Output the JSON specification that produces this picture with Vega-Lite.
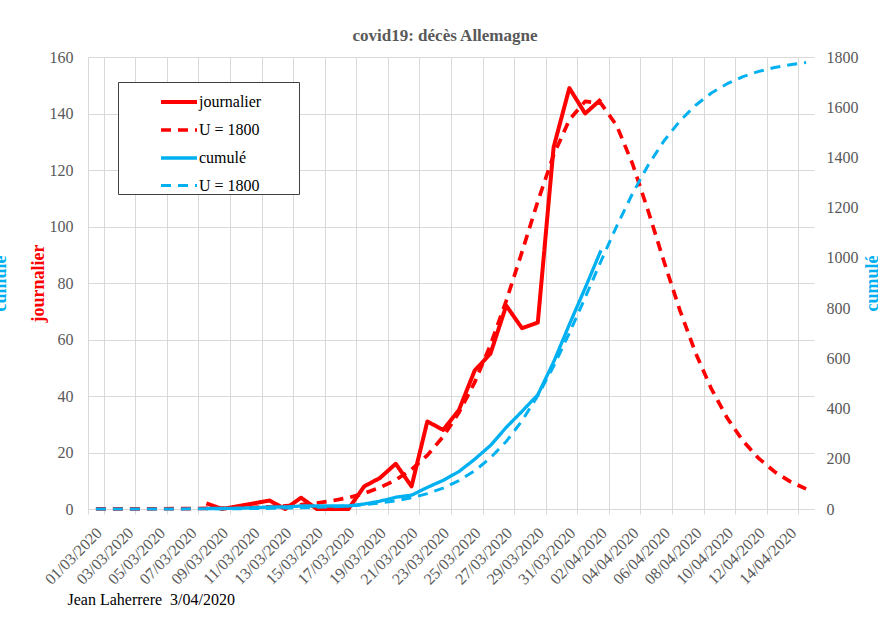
{
  "$schema": "https://vega.github.io/schema/vega-lite/v6.json",
  "width": 726,
  "height": 452,
  "autosize": {"type": "none"},
  "padding": {"left": 88, "top": 57, "right": 64, "bottom": 109},
  "background": "white",
  "title": {
    "text": "covid19: décès Allemagne",
    "font": "Liberation Serif",
    "fontSize": 17,
    "fontWeight": "bold",
    "color": "#595959",
    "anchor": "middle",
    "baseline": "alphabetic",
    "offset": 17,
    "dx": -6,
    "dy": 26
  },
  "datasets": {
    "daily": [
      {"date": "2020-03-08", "serie": "journalier", "value": 2},
      {"date": "2020-03-09", "serie": "journalier", "value": 0},
      {"date": "2020-03-10", "serie": "journalier", "value": 1},
      {"date": "2020-03-11", "serie": "journalier", "value": 2},
      {"date": "2020-03-12", "serie": "journalier", "value": 3},
      {"date": "2020-03-13", "serie": "journalier", "value": 0},
      {"date": "2020-03-14", "serie": "journalier", "value": 4},
      {"date": "2020-03-15", "serie": "journalier", "value": 0},
      {"date": "2020-03-16", "serie": "journalier", "value": 0},
      {"date": "2020-03-17", "serie": "journalier", "value": 0},
      {"date": "2020-03-18", "serie": "journalier", "value": 8},
      {"date": "2020-03-19", "serie": "journalier", "value": 11},
      {"date": "2020-03-20", "serie": "journalier", "value": 16},
      {"date": "2020-03-21", "serie": "journalier", "value": 8},
      {"date": "2020-03-22", "serie": "journalier", "value": 31},
      {"date": "2020-03-23", "serie": "journalier", "value": 28},
      {"date": "2020-03-24", "serie": "journalier", "value": 35},
      {"date": "2020-03-25", "serie": "journalier", "value": 49},
      {"date": "2020-03-26", "serie": "journalier", "value": 55},
      {"date": "2020-03-27", "serie": "journalier", "value": 72},
      {"date": "2020-03-28", "serie": "journalier", "value": 64},
      {"date": "2020-03-29", "serie": "journalier", "value": 66},
      {"date": "2020-03-30", "serie": "journalier", "value": 128},
      {"date": "2020-03-31", "serie": "journalier", "value": 149},
      {"date": "2020-04-01", "serie": "journalier", "value": 140},
      {"date": "2020-04-02", "serie": "journalier", "value": 145},
      {"date": "2020-03-01", "serie": "U = 1800", "value": 0.02},
      {"date": "2020-03-02", "serie": "U = 1800", "value": 0.03},
      {"date": "2020-03-03", "serie": "U = 1800", "value": 0.05},
      {"date": "2020-03-04", "serie": "U = 1800", "value": 0.06},
      {"date": "2020-03-05", "serie": "U = 1800", "value": 0.09},
      {"date": "2020-03-06", "serie": "U = 1800", "value": 0.12},
      {"date": "2020-03-07", "serie": "U = 1800", "value": 0.16},
      {"date": "2020-03-08", "serie": "U = 1800", "value": 0.22},
      {"date": "2020-03-09", "serie": "U = 1800", "value": 0.31},
      {"date": "2020-03-10", "serie": "U = 1800", "value": 0.43},
      {"date": "2020-03-11", "serie": "U = 1800", "value": 0.59},
      {"date": "2020-03-12", "serie": "U = 1800", "value": 0.81},
      {"date": "2020-03-13", "serie": "U = 1800", "value": 1.12},
      {"date": "2020-03-14", "serie": "U = 1800", "value": 1.54},
      {"date": "2020-03-15", "serie": "U = 1800", "value": 2.13},
      {"date": "2020-03-16", "serie": "U = 1800", "value": 2.93},
      {"date": "2020-03-17", "serie": "U = 1800", "value": 4.0},
      {"date": "2020-03-18", "serie": "U = 1800", "value": 5.5},
      {"date": "2020-03-19", "serie": "U = 1800", "value": 7.6},
      {"date": "2020-03-20", "serie": "U = 1800", "value": 10.3},
      {"date": "2020-03-21", "serie": "U = 1800", "value": 14.0},
      {"date": "2020-03-22", "serie": "U = 1800", "value": 19.0},
      {"date": "2020-03-23", "serie": "U = 1800", "value": 25.6},
      {"date": "2020-03-24", "serie": "U = 1800", "value": 34.1},
      {"date": "2020-03-25", "serie": "U = 1800", "value": 44.8},
      {"date": "2020-03-26", "serie": "U = 1800", "value": 58.1},
      {"date": "2020-03-27", "serie": "U = 1800", "value": 73.7},
      {"date": "2020-03-28", "serie": "U = 1800", "value": 91.0},
      {"date": "2020-03-29", "serie": "U = 1800", "value": 108.9},
      {"date": "2020-03-30", "serie": "U = 1800", "value": 125.3},
      {"date": "2020-03-31", "serie": "U = 1800", "value": 137.8},
      {"date": "2020-04-01", "serie": "U = 1800", "value": 144.3},
      {"date": "2020-04-02", "serie": "U = 1800", "value": 143.6},
      {"date": "2020-04-03", "serie": "U = 1800", "value": 135.7},
      {"date": "2020-04-04", "serie": "U = 1800", "value": 122.2},
      {"date": "2020-04-05", "serie": "U = 1800", "value": 105.4},
      {"date": "2020-04-06", "serie": "U = 1800", "value": 87.5},
      {"date": "2020-04-07", "serie": "U = 1800", "value": 70.4},
      {"date": "2020-04-08", "serie": "U = 1800", "value": 55.2},
      {"date": "2020-04-09", "serie": "U = 1800", "value": 42.5},
      {"date": "2020-04-10", "serie": "U = 1800", "value": 32.2},
      {"date": "2020-04-11", "serie": "U = 1800", "value": 24.1},
      {"date": "2020-04-12", "serie": "U = 1800", "value": 17.9},
      {"date": "2020-04-13", "serie": "U = 1800", "value": 13.2},
      {"date": "2020-04-14", "serie": "U = 1800", "value": 9.7},
      {"date": "2020-04-15", "serie": "U = 1800", "value": 7.1}
    ],
    "cumul": [
      {"date": "2020-03-08", "serie": "cumulé", "value": 2},
      {"date": "2020-03-09", "serie": "cumulé", "value": 2},
      {"date": "2020-03-10", "serie": "cumulé", "value": 3},
      {"date": "2020-03-11", "serie": "cumulé", "value": 5},
      {"date": "2020-03-12", "serie": "cumulé", "value": 8},
      {"date": "2020-03-13", "serie": "cumulé", "value": 8},
      {"date": "2020-03-14", "serie": "cumulé", "value": 12},
      {"date": "2020-03-15", "serie": "cumulé", "value": 12},
      {"date": "2020-03-16", "serie": "cumulé", "value": 12},
      {"date": "2020-03-17", "serie": "cumulé", "value": 12},
      {"date": "2020-03-18", "serie": "cumulé", "value": 20},
      {"date": "2020-03-19", "serie": "cumulé", "value": 31},
      {"date": "2020-03-20", "serie": "cumulé", "value": 47},
      {"date": "2020-03-21", "serie": "cumulé", "value": 55},
      {"date": "2020-03-22", "serie": "cumulé", "value": 86},
      {"date": "2020-03-23", "serie": "cumulé", "value": 114},
      {"date": "2020-03-24", "serie": "cumulé", "value": 149},
      {"date": "2020-03-25", "serie": "cumulé", "value": 198},
      {"date": "2020-03-26", "serie": "cumulé", "value": 253},
      {"date": "2020-03-27", "serie": "cumulé", "value": 325},
      {"date": "2020-03-28", "serie": "cumulé", "value": 389},
      {"date": "2020-03-29", "serie": "cumulé", "value": 455},
      {"date": "2020-03-30", "serie": "cumulé", "value": 585},
      {"date": "2020-03-31", "serie": "cumulé", "value": 735},
      {"date": "2020-04-01", "serie": "cumulé", "value": 880},
      {"date": "2020-04-02", "serie": "cumulé", "value": 1030},
      {"date": "2020-03-01", "serie": "U = 1800 ", "value": 0.07},
      {"date": "2020-03-02", "serie": "U = 1800 ", "value": 0.1},
      {"date": "2020-03-03", "serie": "U = 1800 ", "value": 0.14},
      {"date": "2020-03-04", "serie": "U = 1800 ", "value": 0.19},
      {"date": "2020-03-05", "serie": "U = 1800 ", "value": 0.27},
      {"date": "2020-03-06", "serie": "U = 1800 ", "value": 0.37},
      {"date": "2020-03-07", "serie": "U = 1800 ", "value": 0.51},
      {"date": "2020-03-08", "serie": "U = 1800 ", "value": 0.7},
      {"date": "2020-03-09", "serie": "U = 1800 ", "value": 0.96},
      {"date": "2020-03-10", "serie": "U = 1800 ", "value": 1.33},
      {"date": "2020-03-11", "serie": "U = 1800 ", "value": 1.83},
      {"date": "2020-03-12", "serie": "U = 1800 ", "value": 2.5},
      {"date": "2020-03-13", "serie": "U = 1800 ", "value": 3.5},
      {"date": "2020-03-14", "serie": "U = 1800 ", "value": 4.8},
      {"date": "2020-03-15", "serie": "U = 1800 ", "value": 6.6},
      {"date": "2020-03-16", "serie": "U = 1800 ", "value": 9.1},
      {"date": "2020-03-17", "serie": "U = 1800 ", "value": 12.6},
      {"date": "2020-03-18", "serie": "U = 1800 ", "value": 17.3},
      {"date": "2020-03-19", "serie": "U = 1800 ", "value": 23.8},
      {"date": "2020-03-20", "serie": "U = 1800 ", "value": 32.6},
      {"date": "2020-03-21", "serie": "U = 1800 ", "value": 44.7},
      {"date": "2020-03-22", "serie": "U = 1800 ", "value": 61.1},
      {"date": "2020-03-23", "serie": "U = 1800 ", "value": 83.2},
      {"date": "2020-03-24", "serie": "U = 1800 ", "value": 112.9},
      {"date": "2020-03-25", "serie": "U = 1800 ", "value": 152.0},
      {"date": "2020-03-26", "serie": "U = 1800 ", "value": 203.3},
      {"date": "2020-03-27", "serie": "U = 1800 ", "value": 269.0},
      {"date": "2020-03-28", "serie": "U = 1800 ", "value": 351.2},
      {"date": "2020-03-29", "serie": "U = 1800 ", "value": 451.2},
      {"date": "2020-03-30", "serie": "U = 1800 ", "value": 568.5},
      {"date": "2020-03-31", "serie": "U = 1800 ", "value": 700.4},
      {"date": "2020-04-01", "serie": "U = 1800 ", "value": 841.9},
      {"date": "2020-04-02", "serie": "U = 1800 ", "value": 986.6},
      {"date": "2020-04-03", "serie": "U = 1800 ", "value": 1126.8},
      {"date": "2020-04-04", "serie": "U = 1800 ", "value": 1256.1},
      {"date": "2020-04-05", "serie": "U = 1800 ", "value": 1370.1},
      {"date": "2020-04-06", "serie": "U = 1800 ", "value": 1466.5},
      {"date": "2020-04-07", "serie": "U = 1800 ", "value": 1545.3},
      {"date": "2020-04-08", "serie": "U = 1800 ", "value": 1608.0},
      {"date": "2020-04-09", "serie": "U = 1800 ", "value": 1656.6},
      {"date": "2020-04-10", "serie": "U = 1800 ", "value": 1693.8},
      {"date": "2020-04-11", "serie": "U = 1800 ", "value": 1721.8},
      {"date": "2020-04-12", "serie": "U = 1800 ", "value": 1742.6},
      {"date": "2020-04-13", "serie": "U = 1800 ", "value": 1758.0},
      {"date": "2020-04-14", "serie": "U = 1800 ", "value": 1769.4},
      {"date": "2020-04-15", "serie": "U = 1800 ", "value": 1777.7}
    ]
  },
  "encoding": {
    "x": {
      "field": "date",
      "type": "ordinal",
      "scale": {"type": "band", "paddingInner": 0, "paddingOuter": 0},
      "axis": {
        "values": ["2020-03-01","2020-03-03","2020-03-05","2020-03-07","2020-03-09","2020-03-11","2020-03-13","2020-03-15","2020-03-17","2020-03-19","2020-03-21","2020-03-23","2020-03-25","2020-03-27","2020-03-29","2020-03-31","2020-04-02","2020-04-04","2020-04-06","2020-04-08","2020-04-10","2020-04-12","2020-04-14"],
        "labelExpr": "length(datum.label) > 9 ? slice(datum.label,8,10)+'/'+slice(datum.label,5,7)+'/'+slice(datum.label,0,4) : ''",
        "tickBand": "extent",
        "grid": true,
        "gridColor": "#D9D9D9",
        "ticks": true,
        "tickColor": "#D9D9D9",
        "tickSize": 5,
        "domainColor": "#D9D9D9",
        "labelAngle": 315,
        "labelAlign": "right",
        "labelBaseline": "middle",
        "labelFont": "Liberation Serif",
        "labelFontSize": 16,
        "labelColor": "#595959",
        "labelPadding": 16,
        "labelOffset": 3,
        "labelOverlap": false,
        "labelBound": false,
        "labelFlush": false,
        "title": "Jean Laherrere\u00a0 3/04/2020",
        "titleFont": "Liberation Serif",
        "titleFontSize": 16,
        "titleFontWeight": "normal",
        "titleColor": "black",
        "titleAnchor": "start",
        "titleAlign": "left",
        "titleBaseline": "alphabetic",
        "titleX": -21,
        "titleY": 95
      }
    },
    "color": {
      "field": "serie",
      "type": "nominal",
      "scale": {
        "domain": ["journalier", "U = 1800", "cumulé", "U = 1800 "],
        "range": ["#FF0000", "#FF0000", "#00B0F0", "#00B0F0"]
      },
      "legend": {
        "orient": "none",
        "legendX": 30,
        "legendY": 25,
        "title": "\u00a0",
        "titleOrient": "right",
        "titleFontSize": 16,
        "titlePadding": 38,
        "symbolType": "stroke",
        "symbolSize": 1296,
        "labelFont": "Liberation Serif",
        "labelFontSize": 16,
        "labelColor": "black",
        "labelOffset": 0,
        "strokeColor": "#404040",
        "fillColor": "white",
        "padding": 0,
        "rowPadding": -10.5,
        "symbolOffset": 41
      }
    },
    "strokeDash": {
      "field": "serie",
      "type": "nominal",
      "scale": {
        "domain": ["journalier", "U = 1800", "cumulé", "U = 1800 "],
        "range": [[1, 0], [10, 7], [1, 0], [10, 7]]
      }
    },
    "strokeWidth": {
      "field": "serie",
      "type": "nominal",
      "scale": {
        "domain": ["journalier", "U = 1800", "cumulé", "U = 1800 "],
        "range": [4, 3, 4, 3]
      }
    }
  },
  "layer": [
    {
      "data": {"name": "daily"},
      "mark": {"type": "line", "strokeJoin": "round"},
      "encoding": {
        "y": {
          "field": "value",
          "type": "quantitative",
          "scale": {"domain": [0, 160], "nice": false},
          "axis": {
            "orient": "left",
            "values": [0, 20, 40, 60, 80, 100, 120, 140, 160],
            "grid": true,
            "gridColor": "#D9D9D9",
            "ticks": false,
            "domain": false,
            "labelFont": "Liberation Serif",
            "labelFontSize": 16,
            "labelColor": "#595959",
            "labelPadding": 15,
            "title": "journalier",
            "titleColor": "#FF0000",
            "titleFont": "Liberation Serif",
            "titleFontSize": 18,
            "titleFontWeight": "bold",
            "titleAngle": 270,
            "titleAlign": "center",
            "titleBaseline": "alphabetic",
            "titleX": -45,
            "titleY": 226
          }
        }
      }
    },
    {
      "data": {"name": "cumul"},
      "mark": {"type": "line", "strokeJoin": "round"},
      "encoding": {
        "y": {
          "field": "value",
          "type": "quantitative",
          "scale": {"domain": [0, 1800], "nice": false},
          "axis": {
            "orient": "right",
            "values": [0, 200, 400, 600, 800, 1000, 1200, 1400, 1600, 1800],
            "format": "d",
            "grid": false,
            "ticks": false,
            "domain": false,
            "labelFont": "Liberation Serif",
            "labelFontSize": 16,
            "labelColor": "#595959",
            "labelPadding": 12,
            "title": "cumulé",
            "titleColor": "#00B0F0",
            "titleFont": "Liberation Serif",
            "titleFontSize": 18,
            "titleFontWeight": "bold",
            "titleAngle": 270,
            "titleAlign": "center",
            "titleBaseline": "alphabetic",
            "titleX": 63,
            "titleY": 226
          }
        }
      }
    },
    {
      "data": {"name": "cumul"},
      "mark": {"type": "line", "opacity": 0},
      "encoding": {
        "color": {"value": "#00B0F0"},
        "strokeDash": {"value": [1, 0]},
        "strokeWidth": {"value": 1},
        "y": {
          "field": "value",
          "type": "quantitative",
          "scale": {"domain": [0, 1800], "nice": false},
          "axis": {
            "orient": "left",
            "grid": false,
            "ticks": false,
            "domain": false,
            "labels": false,
            "title": "cumulé",
            "titleColor": "#00B0F0",
            "titleFont": "Liberation Serif",
            "titleFontSize": 18,
            "titleFontWeight": "bold",
            "titleAngle": 270,
            "titleAlign": "center",
            "titleBaseline": "alphabetic",
            "titleX": -83,
            "titleY": 226
          }
        }
      }
    }
  ],
  "resolve": {"scale": {"y": "independent"}},
  "config": {
    "view": {"stroke": null}
  }
}
